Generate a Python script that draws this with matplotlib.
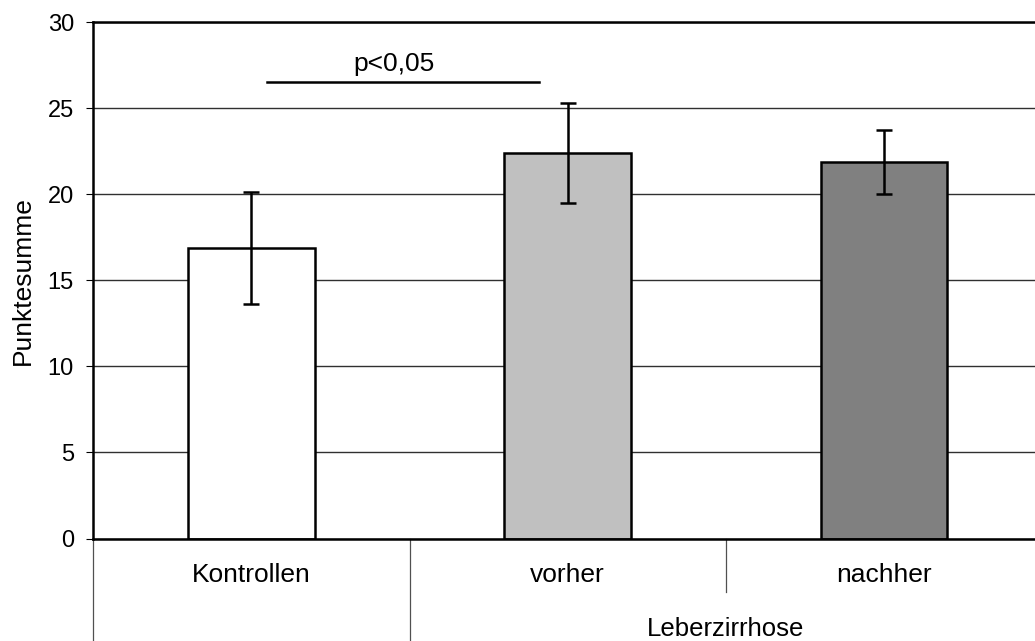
import matplotlib
matplotlib.use("Agg")
import matplotlib.pyplot as plt

categories = ["Kontrollen", "vorher", "nachher"]
group_label = "Leberzirrhose"
values = [16.9, 22.4, 21.9]
errors = [3.25, 2.9, 1.85]
bar_colors = ["#FFFFFF", "#C0C0C0", "#808080"]
y_ticks = [0, 5, 10, 15, 20, 25, 30]
sig_text = "p<0,05"
sig_level = 26.55
sig_span = [0.05, 0.91]

plt.rcParams['font.family'] = ['Liberation Sans', 'DejaVu Sans']

W, H = 1035, 641
fig = plt.figure(figsize=(W / 100, H / 100), dpi=100)
left, right = 93.3 / W, 1042.0 / W
bottom, top = 1 - 538.5 / H, 1 - 22.3 / H
ax = fig.add_axes([left, bottom, right - left, top - bottom])

x = list(range(len(categories)))
ax.set_axisbelow(True)
ax.yaxis.grid(True, color="#303030", linewidth=1.0)
ax.bar(x, values, width=0.4, color=bar_colors, edgecolor="black", linewidth=1.8, zorder=2)
ax.errorbar(x, values, yerr=errors, fmt="none", ecolor="black", elinewidth=1.8,
            capsize=6, capthick=1.8, zorder=3)

ax.set_xlim(-0.5, 2.5)
ax.set_ylim(0, 30)
ax.set_yticks(y_ticks)
ax.set_xticks([])
ax.tick_params(axis="y", direction="out", length=5, width=0.8, labelsize=17, pad=9)
for s in ["left", "bottom", "top"]:
    ax.spines[s].set_linewidth(1.8)
ax.spines["right"].set_visible(False)
ax.set_ylabel("Punktesumme", fontsize=19, labelpad=9)

# significance bar
ax.plot(sig_span, [sig_level, sig_level], color="black", linewidth=1.8, clip_on=False)
ax.text(sum(sig_span) / 2 - 0.03, 27.55, sig_text, ha="center", va="center", fontsize=19)

# multi-level category axis
tr = ax.get_xaxis_transform()
ax_h_px = 538.5 - 22.3
def ay(px):
    return -(px - 538.5) / ax_h_px

for xi, lab in zip(x, categories):
    ax.text(xi, ay(574.5), lab, transform=tr, ha="center", va="center", fontsize=19)
ax.text(1.5, ay(629), group_label, transform=tr, ha="center", va="center", fontsize=18.5)

sep_color = "#505050"
ax.plot([-0.5, -0.5], [0, ay(641)], transform=tr, color=sep_color, linewidth=0.9, clip_on=False)
ax.plot([0.5, 0.5], [0, ay(641)], transform=tr, color=sep_color, linewidth=0.9, clip_on=False)
ax.plot([1.5, 1.5], [0, ay(592)], transform=tr, color=sep_color, linewidth=0.9, clip_on=False)

fig.savefig("out.png", dpi=100)
